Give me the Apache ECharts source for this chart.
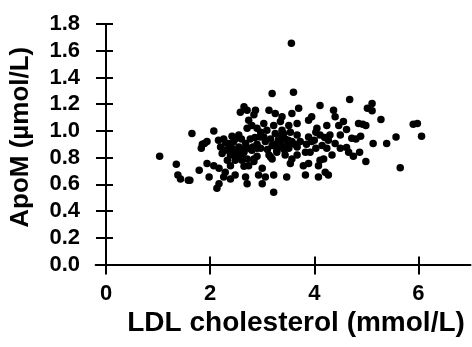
<!DOCTYPE html>
<html>
<head>
<meta charset="utf-8">
<script src="https://cdn.jsdelivr.net/npm/echarts@6/dist/echarts.min.js"></script>
<style>
  html, body { margin: 0; padding: 0; background: #fff; }
  #chart { width: 472px; height: 347px; }
</style>
</head>
<body>
<div id="chart"></div>
<script>
// LDL cholesterol (x) and ApoM (y)
const ldl = [
  1.03, 1.65, 1.35, 1.38, 1.43, 1.58, 1.61, 1.79, 1.85, 1.89, 1.83,
  2.65, 2.71, 2.58, 2.74, 2.71, 2.80, 2.07, 1.94, 2.16, 2.26, 2.36, 2.48, 2.55, 2.20,
  2.29, 2.42, 2.55, 2.68, 2.77, 2.23, 2.39, 2.52, 2.65, 2.80, 2.33, 2.48, 2.61, 2.71,
  2.84, 2.39, 2.65, 2.74, 1.94, 2.07, 2.17, 2.29, 2.26, 1.98, 2.39, 2.48, 2.68, 2.71,
  2.17, 2.13,
  2.87, 3.13, 3.25, 3.38, 3.57, 3.03, 3.22, 3.35, 3.51, 2.90, 3.09, 3.25, 3.38, 3.54,
  2.96, 3.06, 3.31, 3.44, 3.57, 2.90, 3.19, 3.38, 3.51, 3.28, 3.44, 3.57, 3.13, 3.19,
  3.54, 3.00, 2.93, 3.06, 3.22, 3.47, 3.00, 3.22, 3.70, 3.67, 3.67, 3.67,
  3.19, 3.60, 3.56,
  4.11, 4.37, 4.40, 3.95, 3.89, 4.24, 4.05, 4.03, 3.89, 4.11, 4.27, 3.73, 3.95, 4.15,
  4.40, 3.83, 4.03, 4.24, 3.67, 3.92, 4.34, 4.18, 3.79, 3.89, 4.11, 4.08, 3.83, 4.08,
  4.21, 4.27,
  4.68, 5.11, 5.02, 5.11, 5.28, 4.56, 4.47, 4.62, 4.85, 4.93, 4.99, 5.90, 5.98, 6.06,
  5.57, 5.39, 5.13, 4.89, 4.80, 4.72, 4.50, 4.50, 4.62, 4.66, 4.75, 4.87, 4.99, 5.65,
  2.39, 2.58, 2.90, 2.45, 2.61, 2.90, 2.97, 2.84, 3.03, 2.97, 2.42, 3.35, 3.47, 3.28,
  3.41, 3.16, 2.84,
  2.30, 2.45, 2.62, 2.74, 2.50, 2.60, 2.35, 2.86, 2.82, 3.26, 3.42, 3.32, 3.50, 3.62,
  3.16, 3.10, 3.85, 4.00, 4.20, 4.30
];
const apom = [
  0.81, 0.98, 0.75, 0.67, 0.64, 0.63, 0.63, 0.705, 0.90, 0.905, 0.87,
  1.18, 1.155, 1.14, 1.08, 1.02, 1.04, 1.00, 0.92, 0.93, 0.94, 0.905, 0.94, 0.97, 0.88,
  0.855, 0.87, 0.88, 0.905, 0.94, 0.83, 0.82, 0.83, 0.84, 0.855, 0.78, 0.78, 0.78, 0.79,
  0.79, 0.74, 0.735, 0.74, 0.755, 0.74, 0.72, 0.69, 0.655, 0.655, 0.64, 0.67, 0.655, 0.605,
  0.605, 0.57,
  1.155, 1.155, 1.13, 1.105, 1.13, 1.055, 1.04, 1.07, 1.04, 1.02, 1.005, 0.98, 1.005, 0.99,
  0.955, 0.92, 0.93, 0.94, 0.92, 0.87, 0.89, 0.88, 0.87, 0.84, 0.82, 0.79, 0.82, 0.79,
  0.755, 0.72, 0.67, 0.655, 0.67, 0.655, 0.605, 0.54, 1.17, 1.055, 0.97, 0.88,
  1.28, 1.29, 1.655,
  1.19, 1.155, 1.105, 1.105, 1.08, 1.04, 1.02, 0.99, 0.955, 0.97, 0.93, 0.92, 0.92, 0.89,
  0.905, 0.84, 0.87, 0.87, 0.82, 0.84, 0.82, 0.79, 0.74, 0.755, 0.78, 0.74, 0.67, 0.655,
  0.69, 0.67,
  1.235, 1.205, 1.17, 1.15, 1.085, 1.07, 1.04, 1.01, 1.055, 1.05, 1.04, 1.05, 1.055, 0.96,
  0.955, 0.905, 0.905, 0.96, 0.94, 0.945, 0.97, 0.87, 0.875, 0.84, 0.81, 0.84, 0.77, 0.725,
  0.90, 0.86, 0.90, 0.845, 0.82, 0.81, 0.87, 0.77, 0.955, 0.99, 0.96, 0.92, 0.89, 0.855,
  0.98, 0.805, 1.12,
  0.91, 0.92, 0.86, 0.87, 0.80, 0.94, 0.86, 0.95, 0.88, 0.90, 0.86, 0.96, 0.93, 0.90,
  0.94, 0.86, 0.90, 0.93, 0.95, 0.97
];

const xTicks = [0, 2, 4, 6];
const yTicks = [0, 0.2, 0.4, 0.6, 0.8, 1.0, 1.2, 1.4, 1.6, 1.8];

const points = ldl.map((x, i) => [x, apom[i]]);

const labelFont = {
  color: '#000',
  fontFamily: 'Liberation Sans, Arial, sans-serif',
  fontWeight: 'bold',
};

const chart = echarts.init(document.getElementById('chart'), null, { renderer: 'canvas' });

chart.setOption({
  animation: false,
  grid: { left: 95.6, right: 1.5, top: 24, bottom: 82.5, containLabel: false, outerBoundsMode: 'none' },
  xAxis: [
    {
      type: 'value',
      min: -0.2,
      max: 7,
      name: 'LDL cholesterol (mmol/L)',
      nameLocation: 'middle',
      nameGap: 45,
      nameTextStyle: { ...labelFont, fontSize: 28, padding: [0, 0, 0, 26] },
      splitLine: { show: false },
      axisLine: { onZero: false, lineStyle: { color: '#000', width: 2 } },
      axisTick: { customValues: xTicks, length: 10, lineStyle: { color: '#000', width: 2 } },
      axisLabel: { customValues: xTicks, margin: 18, fontSize: 22, ...labelFont },
    },
    {
      // inside half of the crossing ticks
      type: 'value',
      min: -0.2,
      max: 7,
      position: 'bottom',
      splitLine: { show: false },
      axisLine: { show: false, onZero: false },
      axisTick: { customValues: xTicks, inside: true, length: 8, lineStyle: { color: '#000', width: 2 } },
      axisLabel: { show: false },
    },
  ],
  yAxis: [
    {
      type: 'value',
      min: 0,
      max: 1.8,
      offset: -10.4,
      name: 'ApoM (\u00b5mol/L)',
      nameLocation: 'middle',
      nameGap: 72,
      nameTextStyle: { ...labelFont, fontSize: 26, padding: [0, 0, 0, 14] },
      splitLine: { show: false },
      axisLine: { onZero: false, lineStyle: { color: '#000', width: 2 } },
      axisTick: { customValues: yTicks, length: 10, lineStyle: { color: '#000', width: 2 } },
      axisLabel: {
        customValues: yTicks, margin: 26, fontSize: 22, ...labelFont,
        formatter: (v) => v.toFixed(1),
      },
    },
    {
      type: 'value',
      min: 0,
      max: 1.8,
      position: 'left',
      offset: -10.4,
      splitLine: { show: false },
      axisLine: { show: false, onZero: false },
      axisTick: { customValues: yTicks, inside: true, length: 7, lineStyle: { color: '#000', width: 2 } },
      axisLabel: { show: false },
    },
  ],
  series: [
    {
      type: 'scatter',
      xAxisIndex: 0,
      yAxisIndex: 0,
      symbol: 'circle',
      symbolSize: 7.5,
      itemStyle: { color: '#000', opacity: 1 },
      data: points,
    },
  ],
});
</script>
</body>
</html>
